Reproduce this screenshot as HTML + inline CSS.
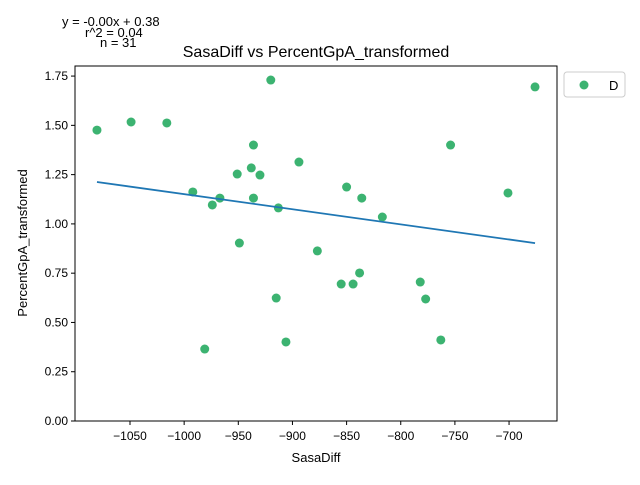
<!DOCTYPE html>
<html><head><meta charset="utf-8"><style>
body{margin:0;background:#fff;}
svg{font-family:"Liberation Sans","DejaVu Sans",sans-serif;}
</style></head><body>
<svg id="chart" width="640" height="480">
<text x="62" y="26" font-size="13">y = -0.00x + 0.38</text>
<text x="85" y="37" font-size="13">r^2 = 0.04</text>
<text x="100" y="47" font-size="13">n = 31</text>
<text x="316" y="57" font-size="16" text-anchor="middle">SasaDiff vs PercentGpA_transformed</text>
<rect x="75" y="66" width="482" height="355" fill="none" stroke="#000" stroke-width="1"/>
<g id="xt"></g><g id="yt"></g><g id="marks"></g>
<text x="316" y="462" font-size="13" text-anchor="middle">SasaDiff</text>
<text transform="translate(27,243) rotate(-90)" font-size="13" text-anchor="middle">PercentGpA_transformed</text>
<g>
<rect x="564" y="72" width="61" height="25" rx="3" fill="#fff" stroke="#ccc"/>
<circle cx="584" cy="85" r="4.5" fill="#3cb371"/>
<text x="609" y="90" font-size="13">D</text>
</g>
</svg>
<script>
const xs=[-1080.5,-1049,-1016,-992,-981,-974,-967,-951,-949,-938,-936,-936,-930,-920,-915,-913,-906,-894,-877,-855,-850,-844,-838,-836,-817,-782,-777,-763,-754,-701,-676];
const ys=[1.476,1.517,1.512,1.162,0.365,1.096,1.131,1.253,0.903,1.284,1.400,1.131,1.248,1.730,0.624,1.081,0.401,1.314,0.863,0.695,1.187,0.695,0.751,1.131,1.035,0.705,0.619,0.411,1.400,1.157,1.695];
const fitSlope=-0.000767;
const fitIntercept=0.384;
const xTicks=[-1050,-1000,-950,-900,-850,-800,-750,-700];
const yTicks=[0,0.25,0.5,0.75,1.0,1.25,1.5,1.75];
const X=v=>130+(v+1050)*1.083;
const Y=v=>421-v*197.1;
const NS="http://www.w3.org/2000/svg";
function mk(tag,attrs,parent){const e=document.createElementNS(NS,tag);for(const k in attrs)e.setAttribute(k,attrs[k]);document.getElementById(parent).appendChild(e);return e;}
xTicks.forEach(t=>{
 const l=mk('line',{x1:X(t),x2:X(t),y1:421,y2:425,stroke:'#000'},'xt');
 
 
 const s=mk('text',{x:X(t),y:440,'font-size':12,'text-anchor':'middle'},'xt');
 s.textContent='\u2212'+Math.abs(t);
 
 
});
yTicks.forEach(t=>{
 const l=mk('line',{x1:71,x2:75,y1:Y(t),y2:Y(t),stroke:'#000'},'yt');
 
 
 const s=mk('text',{x:68,y:Y(t)+4,'font-size':12,'text-anchor':'end'},'yt');
 s.textContent=t.toFixed(2);
 
 
});
xs.forEach((v,i)=>{
 const c=mk('circle',{cx:X(v),cy:Y(ys[i]),r:4.5,fill:'#3cb371'},'marks');
 
 
});
const x0=Math.min(...xs),x1=Math.max(...xs);
const fl=mk('line',{x1:X(x0),y1:Y(fitSlope*x0+fitIntercept),x2:X(x1),y2:Y(fitSlope*x1+fitIntercept),stroke:'#1f77b4','stroke-width':1.8},'marks');


</script>
</body></html>
